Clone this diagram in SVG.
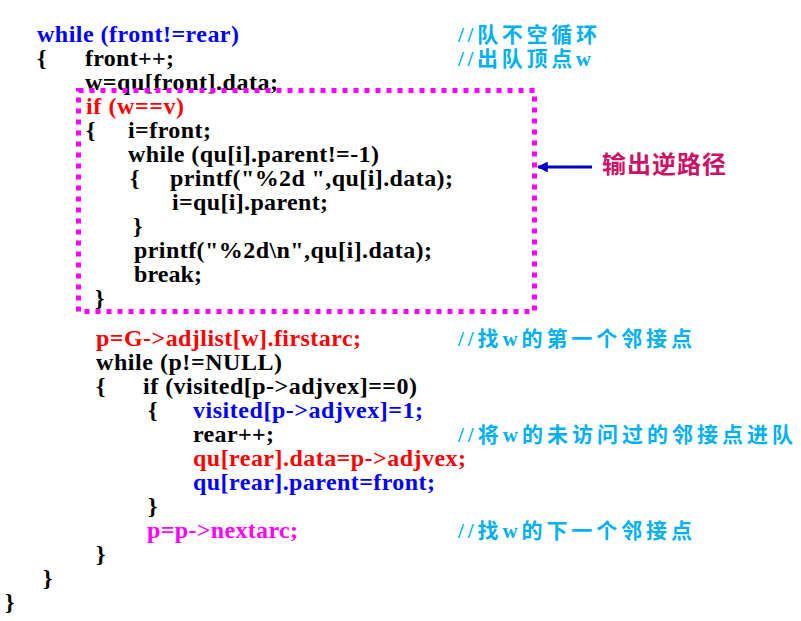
<svg xmlns="http://www.w3.org/2000/svg" width="801" height="621" viewBox="0 0 801 621">
<style>
.c{font-family:"Liberation Serif","Times New Roman",serif;font-weight:bold;font-size:24px;fill:#000}
.b{fill:#0000FF}.r{fill:#FF0000}.m{fill:#FF00FF}
.cm{font-family:"Liberation Serif","Noto Sans CJK SC",serif;font-weight:bold;font-size:21px;fill:#00B0F0}
.lbl{font-family:"Noto Sans CJK SC",sans-serif;font-weight:bold;font-size:24px;fill:#CC1166}
</style>
<defs>
<marker id="ah" viewBox="0 0 10 10" refX="9" refY="5" markerWidth="3.6" markerHeight="3.6" orient="auto" markerUnits="strokeWidth">
<path d="M0,0 L10,5 L0,10 Z" fill="#0000CC"/>
</marker>
</defs>
<rect width="801" height="621" fill="#fff"/>
<g id="code">
<text class="c b" x="37" y="42" textLength="202" lengthAdjust="spacing">while (front!=rear)</text>
<text class="c" x="37" y="66">{</text>
<text class="c" x="85" y="66" textLength="89" lengthAdjust="spacing">front++;</text>
<text class="c" x="85" y="90" textLength="193" lengthAdjust="spacing">w=qu[front].data;</text>
<text class="c r" x="86" y="114" textLength="98" lengthAdjust="spacing">if (w==v)</text>
<text class="c" x="86" y="138">{</text>
<text class="c" x="128" y="138" textLength="83" lengthAdjust="spacing">i=front;</text>
<text class="c" x="128" y="162" textLength="251" lengthAdjust="spacing">while (qu[i].parent!=-1)</text>
<text class="c" x="130" y="186">{</text>
<text class="c" x="170" y="186" textLength="283" lengthAdjust="spacing">printf("%2d ",qu[i].data);</text>
<text class="c" x="172" y="210" textLength="156" lengthAdjust="spacing">i=qu[i].parent;</text>
<text class="c" x="133" y="234">}</text>
<text class="c" x="134" y="258" textLength="298" lengthAdjust="spacing">printf("%2d\n",qu[i].data);</text>
<text class="c" x="134" y="282" textLength="68" lengthAdjust="spacing">break;</text>
<text class="c" x="95" y="306">}</text>
<text class="c r" x="96" y="346" textLength="265" lengthAdjust="spacing">p=G-&gt;adjlist[w].firstarc;</text>
<text class="c" x="96" y="370" textLength="186" lengthAdjust="spacing">while (p!=NULL)</text>
<text class="c" x="96" y="394">{</text>
<text class="c" x="143" y="394" textLength="274" lengthAdjust="spacing">if (visited[p-&gt;adjvex]==0)</text>
<text class="c" x="148" y="418">{</text>
<text class="c b" x="193" y="418" textLength="230" lengthAdjust="spacing">visited[p-&gt;adjvex]=1;</text>
<text class="c" x="193" y="442" textLength="81" lengthAdjust="spacing">rear++;</text>
<text class="c r" x="193" y="466" textLength="273" lengthAdjust="spacing">qu[rear].data=p-&gt;adjvex;</text>
<text class="c b" x="193" y="490" textLength="242" lengthAdjust="spacing">qu[rear].parent=front;</text>
<text class="c" x="148" y="514">}</text>
<text class="c m" x="147" y="538" textLength="151" lengthAdjust="spacing">p=p-&gt;nextarc;</text>
<text class="c" x="96" y="562">}</text>
<text class="c" x="43" y="586">}</text>
<text class="c" x="5" y="610">}</text>
</g>
<g id="comments">
<text class="cm" x="458" y="42" textLength="139" lengthAdjust="spacing">//队不空循环</text>
<text class="cm" x="458" y="66" textLength="133" lengthAdjust="spacing">//出队顶点w</text>
<text class="cm" x="458" y="346" textLength="234" lengthAdjust="spacing">//找w的第一个邻接点</text>
<text class="cm" x="458" y="442" textLength="335" lengthAdjust="spacing">//将w的未访问过的邻接点进队</text>
<text class="cm" x="458" y="538" textLength="234" lengthAdjust="spacing">//找w的下一个邻接点</text>
</g>
<g id="box">
<rect x="78.5" y="90.5" width="456" height="221" fill="none" stroke="#FF00FF" stroke-width="5" stroke-dasharray="5 6"/>
</g>
<g id="connectors">
<line x1="592" y1="167" x2="538" y2="167" stroke="#0000CC" stroke-width="3" marker-end="url(#ah)"/>
</g>
<g id="label">
<text class="lbl" x="602" y="173" textLength="124" lengthAdjust="spacing">输出逆路径</text>
</g>
</svg>
